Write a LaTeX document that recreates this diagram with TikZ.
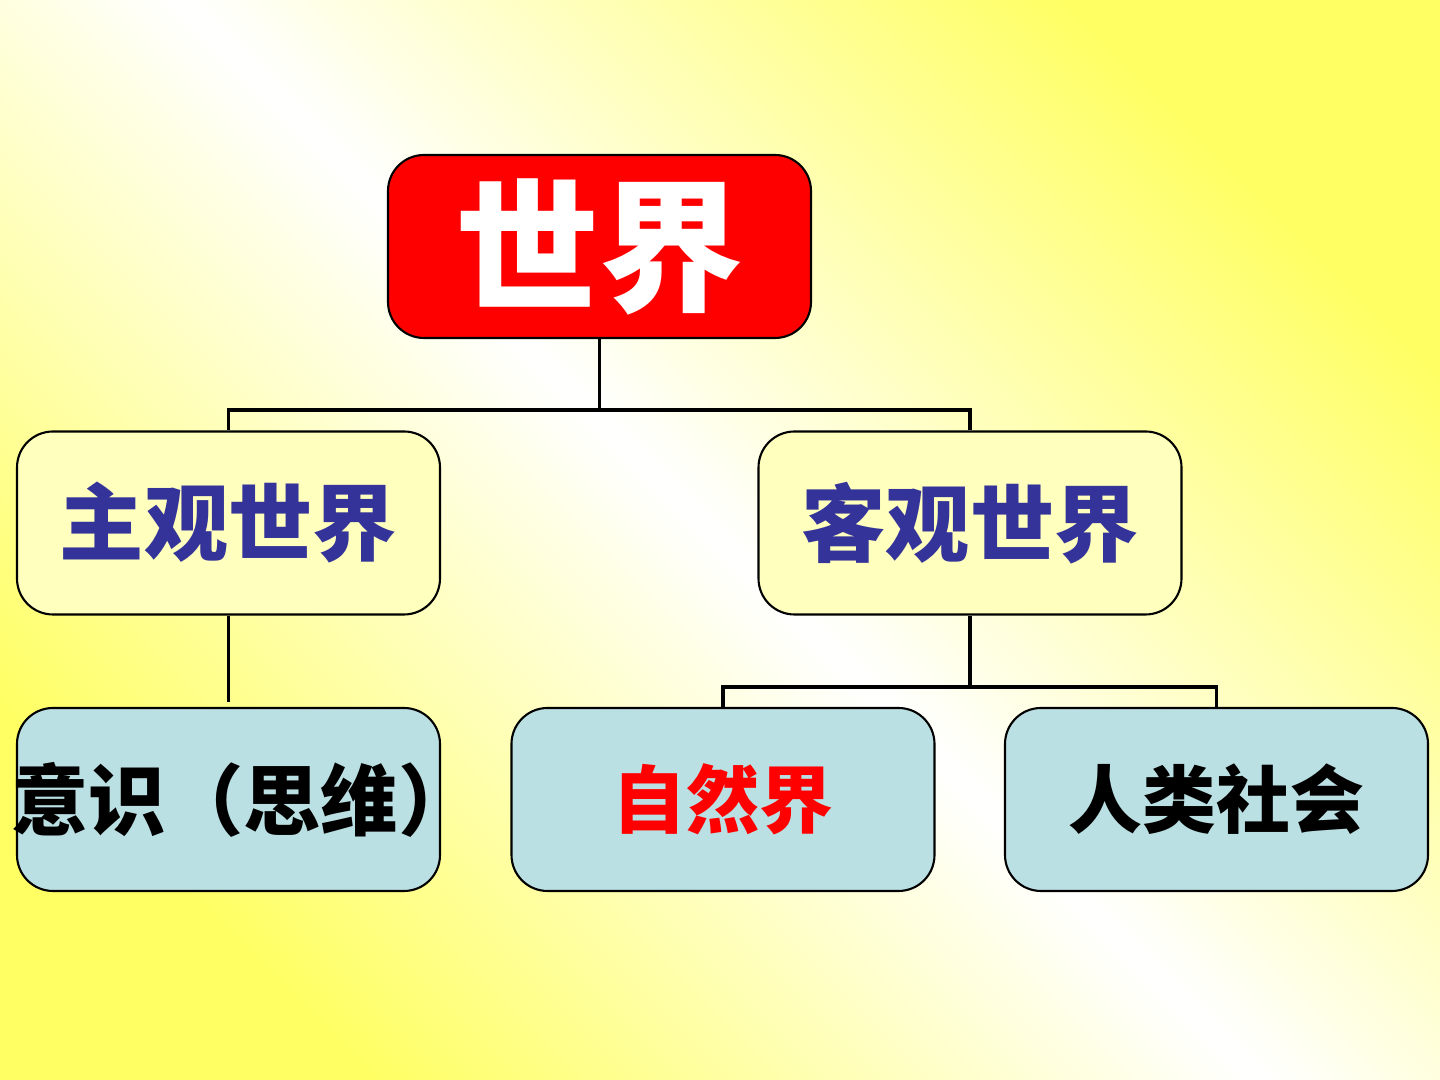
\documentclass[tikz,border=0pt]{standalone}
\usepackage{fontspec}
\newfontfamily\cjk{Noto Sans CJK SC}
\usetikzlibrary{calc}
\definecolor{bgyellow}{RGB}{255,255,100}
\definecolor{boxred}{RGB}{255,0,0}
\definecolor{boxyellow}{RGB}{255,255,190}
\definecolor{boxblue}{RGB}{187,224,227}
\definecolor{txtblue}{RGB}{51,51,153}
\tikzset{
  box/.style={draw=black, line width=0.6pt, rounded corners=0.36cm,
    minimum width=4.23cm, minimum height=1.83cm, inner sep=0pt,
    font=\cjk\bfseries},
  topbox/.style={box, fill=boxred, text=white, font=\cjk\bfseries\fontsize{41}{46}\selectfont},
  midbox/.style={box, fill=boxyellow, text=txtblue, font=\cjk\bfseries\fontsize{24}{28}\selectfont},
  lowbox/.style={box, fill=boxblue, font=\cjk\bfseries\fontsize{21}{25}\selectfont},
  link/.style={draw=black, line width=1.1pt}
}
\begin{document}
\begin{tikzpicture}
\useasboundingbox (0,0) rectangle (14.4,10.8);
\shade[top color=bgyellow, bottom color=bgyellow, middle color=white, shading angle=-45]
  (0,0) rectangle (14.4,10.8);

\node[topbox] (w) at (5.995,8.335) {世界};
\node[midbox] (zg) at (2.285,5.57) {主观世界};
\node[midbox] (kg) at (9.70,5.57) {客观世界};
\node[lowbox, text=black] (ys) at (2.285,2.805)
  {\makebox[0pt]{\hspace*{0.3cm}\fontsize{22}{25}\selectfont 意识（思维）}};
\node[lowbox, text=boxred] (zr) at (7.23,2.805) {自然界};
\node[lowbox, text=black] (rl) at (12.165,2.805) {人类社会};

\coordinate (b1) at ($(zg.north)+(0,0.2)$);
\draw[link] (zg.north) -- (b1) -| (kg.north);
\draw[link] (w.south) -- (w.south |- b1);

\coordinate (e1) at ($(ys.north)+(0,0.05)$);
\draw[link] (zg.south) -- (e1);

\coordinate (b2) at ($(zr.north)+(0,0.2)$);
\draw[link] (zr.north) -- (b2) -| (rl.north);
\draw[link] (kg.south) -- (kg.south |- b2);
\end{tikzpicture}
\end{document}
